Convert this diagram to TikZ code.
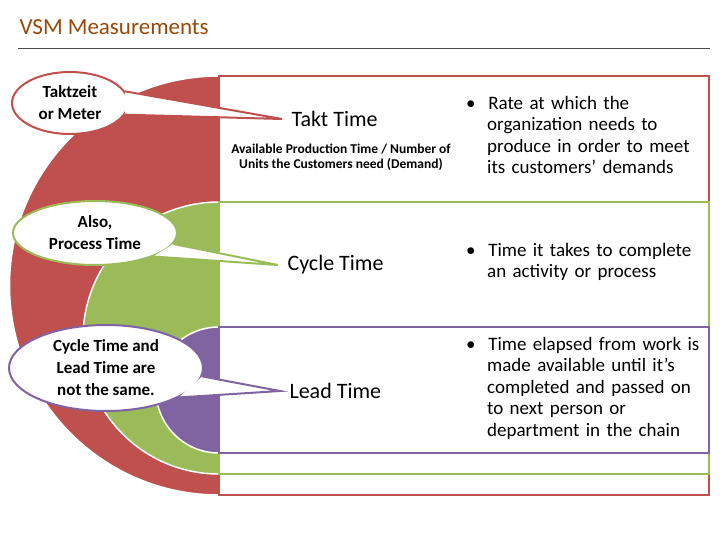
\documentclass[tikz,border=0pt]{standalone}
\usepackage{fontspec}
\setmainfont{Carlito}
\usetikzlibrary{shapes.geometric}
\definecolor{cr}{HTML}{C0504D}
\definecolor{cg}{HTML}{9BBB59}
\definecolor{cp}{HTML}{8064A2}
\definecolor{ct}{HTML}{984807}
\tikzset{
 callout/.style={ellipse,draw=#1,line width=2pt,fill=white,inner sep=0pt,font=\fontsize{17}{22}\selectfont\bfseries,align=center},
 head/.style={font=\fontsize{22}{26}\selectfont,anchor=west},
 desc/.style={font=\fontsize{19}{21.5}\selectfont,anchor=north west,align=left,text width=240pt,inner sep=0pt},
 box/.style={draw=#1,line width=2.5pt,fill=white},
 half/.style={fill=#1,draw=white,line width=1.5pt}
}
\begin{document}
\begin{tikzpicture}[x=1pt,y=-1pt]
\useasboundingbox (0,0) rectangle (720,540);
\node[anchor=west,text=ct,font=\fontsize{23}{26}\selectfont] (title) at (16,27) {VSM Measurements};
\draw[gray!60!black,line width=0.8pt] (18,48) coordinate (l1) -- (710,48) coordinate (l2);
% red
\draw[half=cr] (219,76) arc[start angle=-90,end angle=-270,radius=209.5] -- cycle;
\draw[box=cr] (219,76) rectangle (709,495);
% green
\draw[half=cg] (219,202) arc[start angle=-90,end angle=-270,radius=136] -- cycle;
\draw[box=cg] (219,202) rectangle (709,474);
% purple
\draw[half=cp] (219,327) arc[start angle=-90,end angle=-270,radius=63] -- cycle;
\draw[box=cp] (219,327) rectangle (709,453);
% headings
\node[head] (tt) at (288,119) {Takt Time};
\node[font=\fontsize{13.5}{15}\selectfont\bfseries,align=center] (form) at (341,157) {Available Production Time / Number of\\Units the Customers need (Demand)};
\node[head] (ct) at (284,265) {Cycle Time};
\node[head] (lt) at (286,391) {Lead Time};
\coordinate (t1) at ([xshift=-6pt]tt.west);
\coordinate (t2) at ([xshift=-6pt]ct.west);
\coordinate (t3) at ([xshift=-6pt]lt.west);
% descriptions
\node[desc] (d1) at (466,96) {\textbullet\ \ Rate at which the\\\hspace*{21pt}organization needs to\\\hspace*{21pt}produce in order to meet\\\hspace*{21pt}its customers’ demands};
\node[desc] (d2) at (466,243) {\textbullet\ \ Time it takes to complete\\\hspace*{21pt}an activity or process};
\node[desc] (d3) at (466,337) {\textbullet\ \ Time elapsed from work is\\\hspace*{21pt}made available until it’s\\\hspace*{21pt}completed and passed on\\\hspace*{21pt}to next person or\\\hspace*{21pt}department in the chain};
% callouts
\node[callout=cr,minimum width=116pt,minimum height=62pt] (c1) at (70,103) {Taktzeit\\or Meter};
\fill[white] (c1.12) -- (t1) -- (c1.-12) -- cycle;
\draw[cr,line width=2pt] (c1.12) -- (t1) -- (c1.-12);
\node[callout=cg,minimum width=164pt,minimum height=64pt] (c2) at (95,233) {Also,\\Process Time};
\fill[white] (c2.-8) -- (t2) -- (c2.-22) -- cycle;
\draw[cg,line width=2pt] (c2.-8) -- (t2) -- (c2.-22);
\node[callout=cp,minimum width=194pt,minimum height=86pt] (c3) at (106,368) {Cycle Time and\\Lead Time are\\not the same.};
\fill[white] (c3.-5) -- (t3) -- (c3.-22) -- cycle;
\draw[cp,line width=2pt] (c3.-5) -- (t3) -- (c3.-22);
\end{tikzpicture}
\end{document}
